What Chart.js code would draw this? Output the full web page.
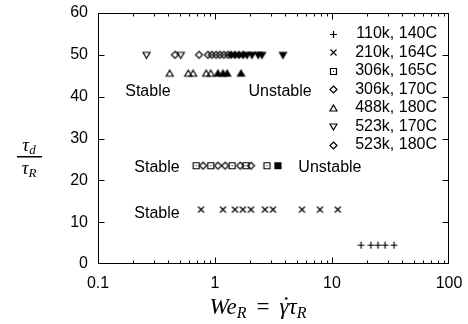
<!DOCTYPE html>
<html>
<head>
<meta charset="utf-8">
<script src="https://cdn.jsdelivr.net/npm/chart.js@4.4.1/dist/chart.umd.min.js"></script>
<style>
html, body { margin: 0; padding: 0; background: #fff; }
#wrap { width: 468px; height: 324px; }
</style>
</head>
<body>
<div id="wrap"><canvas id="chart" width="468" height="324"></canvas></div>
<script>
// legend order
var seriesLabels = ['110k, 140C', '210k, 164C', '306k, 165C', '306k, 170C', '488k, 180C', '523k, 170C', '523k, 180C'];
var seriesMarks = ['plus', 'cross', 'boxdot', 'diamond', 'tri', 'itri', 'diamond'];
var filledMarks = [null, null, 'box', null, 'tri', 'itri', 'diamond'];
// tau_d / tau_R of each series
var seriesRatio = [4.5, 13, 23.5, 23.5, 45.5, 50, 50];

// We_R of the stable (open) points
var we110k140 = [17.7, 21.5, 24.7, 28.4, 33.9];
var we210k164 = [0.76, 1.17, 1.48, 1.73, 2.03, 2.67, 3.13, 5.54, 7.89, 11.2];
var we306k165 = [0.69, 0.92, 1.40, 1.84, 2.78];
var we306k170 = [0.79, 1.06, 1.22, 1.64, 2.03];
var we488k180 = [0.41, 0.59, 0.65, 0.84, 0.92];
var we523k170 = [0.26, 0.51];
var we523k180 = [0.455, 0.73, 0.87, 0.94, 1.02, 1.10, 1.19, 1.29];

// We_R of the unstable (filled) points
var un306k165 = [3.45];
var un488k180 = [1.06, 1.17, 1.27, 1.67];
var un523k170 = [1.88, 2.07, 2.34, 2.52, 3.81];
var un523k180 = [1.37, 1.48, 1.60, 1.74];

var stableWe = [we110k140, we210k164, we306k165, we306k170, we488k180, we523k170, we523k180];
var unstableWe = [[], [], un306k165, [], un488k180, un523k170, un523k180];

// text notes in the plot
var noteText = ['Stable', 'Unstable', 'Stable', 'Unstable', 'Stable'];
var noteWe = [0.267, 3.6, 0.319, 9.6, 0.319];
var noteRatio = [41.1, 41.1, 23, 23, 12];

var xTicks = [0.1, 1, 10, 100];
var yTicks = [0, 10, 20, 30, 40, 50, 60];

var SANS = '"Liberation Sans", Arial, Helvetica, sans-serif';
var SERIF = '"Liberation Serif", "DejaVu Serif", serif';

/*
 * marker glyphs
 */
function makeMarker(kind, filled) {
    var c = document.createElement('canvas');
    c.width = 11;
    c.height = 11;
    var g = c.getContext('2d');
    var m = 5.5, r = 3.5;
    g.strokeStyle = '#000';
    g.fillStyle = '#000';
    g.lineWidth = 1.2;
    g.beginPath();
    if (kind === 'plus') {
        g.moveTo(m - r, m); g.lineTo(m + r, m);
        g.moveTo(m, m - r); g.lineTo(m, m + r);
    } else if (kind === 'cross') {
        g.moveTo(m - r + 0.5, m - r + 0.5); g.lineTo(m + r - 0.5, m + r - 0.5);
        g.moveTo(m - r + 0.5, m + r - 0.5); g.lineTo(m + r - 0.5, m - r + 0.5);
    } else if (kind === 'boxdot' || kind === 'box') {
        g.rect(m - r + 0.5, m - r + 0.5, 2 * r - 1, 2 * r - 1);
    } else if (kind === 'diamond') {
        g.moveTo(m, m - r); g.lineTo(m + r, m); g.lineTo(m, m + r); g.lineTo(m - r, m); g.closePath();
    } else if (kind === 'tri') {
        g.moveTo(m, m - r); g.lineTo(m + r, m + r - 1); g.lineTo(m - r, m + r - 1); g.closePath();
    } else if (kind === 'itri') {
        g.moveTo(m, m + r); g.lineTo(m + r, m - r + 1); g.lineTo(m - r, m - r + 1); g.closePath();
    }
    if (filled) {
        g.fill();
    }
    g.stroke();
    if (kind === 'boxdot') {
        g.fillRect(5, 5, 1, 1);
    }
    return c;
}

var datasets = [];
var legendImgs = [];
for (var i = 0; i < seriesLabels.length; i++) {
    var img = makeMarker(seriesMarks[i], false);
    legendImgs.push(img);
    datasets.push({
        label: seriesLabels[i],
        data: stableWe[i].map(function (v) { return { x: v, y: this.valueOf() }; }, seriesRatio[i]),
        pointStyle: img,
        pointRadius: 4
    });
    if (unstableWe[i].length) {
        datasets.push({
            label: seriesLabels[i] + ' unstable',
            data: unstableWe[i].map(function (v) { return { x: v, y: this.valueOf() }; }, seriesRatio[i]),
            pointStyle: makeMarker(filledMarks[i], true),
            pointRadius: 4
        });
    }
}

// draws a row of text pieces centred on cx, returns the start x of every piece
function drawRuns(ctx, runs, cx, base) {
    var w = 0;
    runs.forEach(function (r) {
        ctx.font = r.f;
        r.w = ctx.measureText(r.t).width + (r.gap || 0) * 2;
        w += r.w;
    });
    var x = cx - w / 2;
    var starts = [];
    runs.forEach(function (r) {
        ctx.font = r.f;
        starts.push(x + (r.gap || 0));
        ctx.fillText(r.t, x + (r.gap || 0), base + (r.dy || 0));
        x += r.w;
    });
    return starts;
}

// frame + inward ticks on all four sides
var framePlugin = {
    id: 'frame',
    afterDatasetsDraw: function (chart) {
        var ctx = chart.ctx, a = chart.chartArea;
        var xs = chart.scales.x, ys = chart.scales.y;
        ctx.save();
        ctx.strokeStyle = '#000';
        ctx.lineWidth = 1;
        var L = Math.round(a.left) + 0.5, R = Math.round(a.right) - 0.5;
        var T = Math.round(a.top) + 0.5, B = Math.round(a.bottom) - 0.5;
        ctx.strokeRect(L, T, R - L, B - T);
        ctx.beginPath();
        var decades = [0.1, 1, 10];
        decades.forEach(function (d) {
            for (var m = 1; m < 10; m++) {
                var v = d * m;
                if (v <= 0.1) continue;
                var px = Math.round(xs.getPixelForValue(v)) + 0.5;
                var len = m === 1 ? 6 : 3;
                ctx.moveTo(px, B); ctx.lineTo(px, B - len);
                ctx.moveTo(px, T); ctx.lineTo(px, T + len);
            }
        });
        yTicks.forEach(function (v) {
            if (v === 0 || v === 60) return;
            var py = Math.round(ys.getPixelForValue(v)) + 0.5;
            ctx.moveTo(L, py); ctx.lineTo(L + 6, py);
            ctx.moveTo(R, py); ctx.lineTo(R - 6, py);
        });
        ctx.stroke();
        ctx.restore();
    }
};

// legend in the top right, notes and axis titles
var textPlugin = {
    id: 'texts',
    afterDraw: function (chart) {
        var ctx = chart.ctx, a = chart.chartArea;
        var xs = chart.scales.x, ys = chart.scales.y;
        ctx.save();
        ctx.fillStyle = '#000';
        ctx.textBaseline = 'middle';

        // legend
        ctx.font = '16px ' + SANS;
        ctx.textAlign = 'right';
        for (var i = 0; i < seriesLabels.length; i++) {
            var ly = 34 + i * 18.5;
            ctx.fillText(seriesLabels[i], a.right - 12, ly);
            ctx.drawImage(legendImgs[i], Math.round(a.right - 116 - 5.5), Math.round(ly - 5.5));
        }

        // notes
        ctx.textAlign = 'center';
        for (var k = 0; k < noteText.length; k++) {
            ctx.fillText(noteText[k], xs.getPixelForValue(noteWe[k]), ys.getPixelForValue(noteRatio[k]));
        }

        // axis titles
        ctx.textAlign = 'left';
        ctx.textBaseline = 'alphabetic';
        var it22 = 'italic 23px ' + SERIF, it15 = 'italic 16px ' + SERIF;
        var st = drawRuns(ctx, [
            { t: 'We', f: it22 },
            { t: 'R', f: it15, dy: 4 },
            { t: '=', f: '23px ' + SERIF, gap: 10 },
            { t: '\u03B3', f: it22 },
            { t: '\u03C4', f: it22 },
            { t: 'R', f: it15, dy: 4 }
        ], 258, 314);
        // dot accent over gamma
        ctx.beginPath();
        ctx.arc(st[3] + 6.8, 298.5, 1.3, 0, Math.PI * 2);
        ctx.fill();

        var it19 = 'italic 19px ' + SERIF, it13 = 'italic 13px ' + SERIF;
        drawRuns(ctx, [{ t: '\u03C4', f: it19 }, { t: 'd', f: it13, dy: 3 }], 29, 151);
        ctx.fillRect(17, 156, 25, 1.5);
        drawRuns(ctx, [{ t: '\u03C4', f: it19 }, { t: 'R', f: it13, dy: 3 }], 29, 174);
        ctx.restore();
    }
};

new Chart(document.getElementById('chart'), {
    type: 'scatter',
    data: { datasets: datasets },
    options: {
        responsive: false,
        animation: false,
        layout: { padding: { left: 0, right: 19, top: 13, bottom: 0 } },
        plugins: {
            legend: { display: false },
            tooltip: { enabled: false }
        },
        scales: {
            x: {
                type: 'logarithmic',
                min: 0.1,
                max: 100,
                grid: { display: false, drawTicks: false },
                border: { display: false },
                afterBuildTicks: function (s) { s.ticks = xTicks.map(function (v) { return { value: v }; }); },
                afterFit: function (s) {
                    s.height = 60;
                    s.paddingLeft = 0;
                    s.paddingRight = 0;
                },
                ticks: {
                    autoSkip: false,
                    maxRotation: 0,
                    padding: 10,
                    color: '#000',
                    font: { family: SANS, size: 16 },
                    callback: function (v) { return String(v); }
                }
            },
            y: {
                min: 0,
                max: 60,
                grid: { display: false, drawTicks: false },
                border: { display: false },
                afterBuildTicks: function (s) { s.ticks = yTicks.map(function (v) { return { value: v }; }); },
                afterFit: function (s) {
                    s.width = 98;
                    s.paddingTop = 0;
                    s.paddingBottom = 0;
                },
                ticks: {
                    padding: 10,
                    color: '#000',
                    font: { family: SANS, size: 16 }
                }
            }
        }
    },
    plugins: [framePlugin, textPlugin]
});
</script>
</body>
</html>
